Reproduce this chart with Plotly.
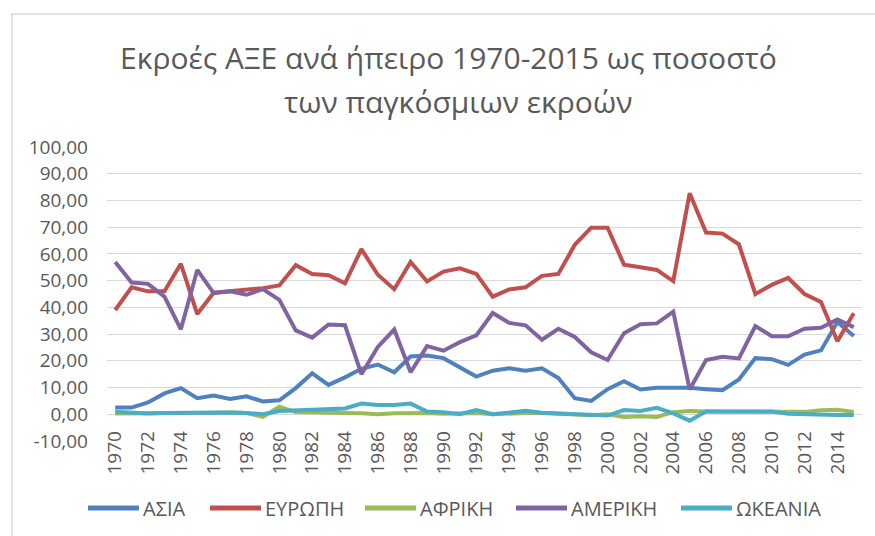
import plotly.graph_objects as go

years = list(range(1970, 2016))

asia = [2.5, 2.5, 4.4, 7.8, 9.8, 6.0, 7.0, 5.7, 6.7, 4.8,
        5.2, 9.8, 15.3, 11.0, 13.8, 17.0, 18.6, 15.7, 21.6, 22.0,
        21.0, 17.6, 14.1, 16.3, 17.2, 16.3, 17.2, 13.6, 6.0, 5.0,
        9.4, 12.4, 9.3, 9.9, 9.9, 9.9, 9.4, 9.0, 13.0, 21.0,
        20.6, 18.5, 22.3, 23.9, 34.5, 29.3]
europe = [39.0, 47.5, 46.0, 46.0, 56.3, 37.5, 45.5, 46.0, 46.5, 47.2,
          48.2, 55.8, 52.5, 52.0, 49.0, 61.8, 52.2, 46.8, 57.0, 49.7,
          53.4, 54.6, 52.5, 44.0, 46.7, 47.5, 51.8, 52.5, 63.4, 69.8,
          69.8, 56.0, 55.0, 54.0, 49.8, 82.7, 68.0, 67.6, 63.6, 45.0,
          48.4, 51.0, 45.0, 42.0, 27.3, 37.8]
africa = [0.3, 0.3, 0.3, 0.5, 0.5, 0.6, 0.6, 0.7, 0.5, -1.0,
          2.8, 0.8, 0.6, 0.5, 0.5, 0.4, 0.0, 0.4, 0.5, 0.5,
          0.2, 0.2, 0.5, 0.0, 0.3, 0.5, 0.5, 0.3, -0.2, -0.4,
          0.0, -1.0, -0.7, -1.0, 0.8, 1.2, 1.0, 1.0, 1.0, 1.2,
          1.0, 0.9, 0.9, 1.5, 1.7, 0.9]
america = [57.0, 49.3, 48.8, 44.0, 31.8, 54.0, 45.3, 46.0, 44.7, 46.8,
           42.8, 31.4, 28.7, 33.6, 33.3, 15.0, 25.2, 31.7, 15.7, 25.5,
           23.8, 27.0, 29.5, 37.9, 34.2, 33.3, 27.9, 32.0, 28.9, 23.2,
           20.3, 30.3, 33.7, 34.0, 38.4, 9.3, 20.3, 21.5, 20.9, 33.0,
           29.2, 29.2, 32.0, 32.4, 35.5, 32.6]
oceania = [0.9, 0.7, 0.3, 0.5, 0.6, 0.5, 0.6, 0.7, 0.5, 0.0,
           1.2, 1.5, 1.8, 1.9, 2.2, 4.0, 3.5, 3.5, 4.0, 1.0,
           0.8, 0.0, 1.6, 0.0, 0.8, 1.3, 0.6, 0.4, 0.1, -0.2,
           -0.5, 1.6, 1.2, 2.4, 0.3, -2.4, 1.1, 1.0, 1.1, 1.2,
           1.0, 0.2, 0.0, -0.3, -0.3, -0.3]

series_names = ["ΑΣΙΑ", "ΕΥΡΩΠΗ", "ΑΦΡΙΚΗ", "ΑΜΕΡΙΚΗ", "ΩΚΕΑΝΙΑ"]
series_values = [asia, europe, africa, america, oceania]
series_colors = ["#4F81BD", "#C0504D", "#9BBB59", "#8064A2", "#4BACC6"]

y_tick_values = list(range(-10, 101, 10))
y_tick_labels = [f"{v:.2f}".replace(".", ",") for v in y_tick_values]
x_tick_values = list(range(1970, 2015, 2))
x_tick_labels = [str(v) for v in x_tick_values]

title_line1 = "Εκροές ΑΞΕ ανά ήπειρο 1970-2015 ως ποσοστό"
title_line2 = "των παγκόσμιων εκροών"

W, H = 875, 536
L, R, T, B = 107, 13, 147, 95
PW, PH = W - L - R, H - T - B

def px_x(x):
    return (x - L) / PW

def px_y(y):
    return (H - B - y) / PH

TXT = "#595959"
FONT = "Open Sans"

fig = go.Figure()
for name, vals, col in zip(series_names, series_values, series_colors):
    fig.add_trace(go.Scatter(x=years, y=vals, mode="lines", name=name,
                             line=dict(color=col, width=4),
                             showlegend=False))

ymin, ymax = -10, 100
zero_pos = (0 - ymin) / (ymax - ymin)

fig.update_layout(
    width=W, height=H,
    margin=dict(l=L, r=R, t=T, b=B, pad=0),
    paper_bgcolor="white", plot_bgcolor="white",
    font=dict(family=FONT, color=TXT),
    xaxis=dict(range=[1969.5, 2015.5], tickmode="array",
               tickvals=x_tick_values, ticktext=x_tick_labels,
               tickangle=-90, showgrid=False, zeroline=False,
               showline=False, ticks="", anchor="free", position=zero_pos,
               ticklabelstandoff=12,
               tickfont=dict(size=19, color=TXT, family=FONT)),
    yaxis=dict(range=[ymin, ymax], tickmode="array",
               tickvals=y_tick_values, ticktext=y_tick_labels,
               showgrid=True, gridcolor="#D9D9D9", gridwidth=1,
               zeroline=False, showline=False, ticks="",
               ticklabelstandoff=18,
               tickfont=dict(size=19, color=TXT, family=FONT)),
)

# chart border (top and left visible)
fig.add_shape(type="rect", xref="paper", yref="paper",
              x0=px_x(12), x1=px_x(890), y0=px_y(550), y1=px_y(14),
              line=dict(color="#D9D9D9", width=1.5), layer="below")

# title
fig.add_annotation(text=title_line1, xref="paper", yref="paper",
                   x=px_x(448), y=px_y(57), showarrow=False,
                   xanchor="center", yanchor="middle",
                   font=dict(size=30, color=TXT, family=FONT))
fig.add_annotation(text=title_line2, xref="paper", yref="paper",
                   x=px_x(458), y=px_y(101), showarrow=False,
                   xanchor="center", yanchor="middle",
                   font=dict(size=30, color=TXT, family=FONT))

# legend (manual, long line samples as in the original)
legend_line_x = [88, 210, 365, 516, 681]
legend_y = 508
for name, col, lx in zip(series_names, series_colors, legend_line_x):
    fig.add_shape(type="line", xref="paper", yref="paper",
                  x0=px_x(lx), x1=px_x(lx + 51), y0=px_y(legend_y), y1=px_y(legend_y),
                  line=dict(color=col, width=5))
    fig.add_annotation(text=name, xref="paper", yref="paper",
                       x=px_x(lx + 53), y=px_y(legend_y), showarrow=False,
                       xanchor="left", yanchor="middle",
                       font=dict(size=20, color=TXT, family=FONT))

fig.write_html("out.html", config={"displayModeBar": False},
               post_script="document.body.style.margin='0';")
